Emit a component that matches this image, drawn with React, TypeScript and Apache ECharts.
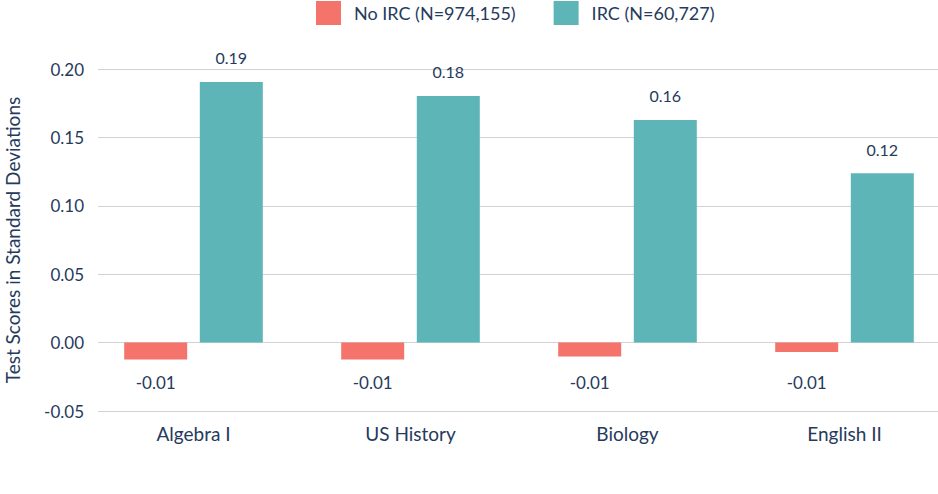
import React, { useEffect, useRef } from "react";
import * as echarts from "echarts";

const categories = ["Algebra I", "US History", "Biology", "English II"];
const noIrc = [-0.0124, -0.0124, -0.0102, -0.0068];
const irc = [0.1905, 0.1803, 0.1628, 0.1238];
const seriesNames = ["No IRC (N=974,155)", "IRC (N=60,727)"];
const yTicks = { min: -0.05, max: 0.2, interval: 0.05 };

const TEXT = "#263a5c";
const FONT = "Lato";

export default function App() {
  const ref = useRef<HTMLDivElement>(null);
  useEffect(() => {
    document.body.style.margin = "0";
    const chart = echarts.init(ref.current!, undefined, { renderer: "svg" });
    chart.setOption({
      animation: false,
      textStyle: { fontFamily: FONT, color: TEXT },
      legend: {
        top: 1,
        left: 316,
        padding: 0,
        itemWidth: 25,
        itemHeight: 24,
        itemGap: 38,
        icon: "rect",
        textStyle: { fontSize: 18, color: TEXT, fontFamily: FONT, padding: [0, 0, 0, 8] },
        data: seriesNames,
      },
      grid: { left: 85, right: -15, top: 69, bottom: 83, outerBoundsMode: "none", containLabel: false },
      xAxis: {
        type: "category",
        data: categories,
        axisLine: { show: false },
        axisTick: { show: false },
        axisLabel: { fontSize: 19, color: TEXT, fontFamily: FONT, margin: 13 },
      },
      yAxis: {
        type: "value",
        min: yTicks.min,
        max: yTicks.max,
        interval: yTicks.interval,
        name: "Test Scores in Standard Deviations",
        nameLocation: "middle",
        nameGap: 63,
        nameTextStyle: { fontSize: 19, color: TEXT, fontFamily: FONT },
        axisLine: { show: false },
        axisTick: { show: false },
        axisLabel: {
          fontSize: 17,
          color: TEXT,
          fontFamily: FONT,
          margin: 1,
          formatter: (v: number) => v.toFixed(2),
        },
        splitLine: { lineStyle: { color: "#d2d2d2", width: 1 } },
      },
      series: [
        {
          name: seriesNames[0],
          type: "bar",
          data: noIrc,
          barWidth: 63,
          barGap: "20%",
          itemStyle: { color: "#f4736b" },
          label: {
            show: true,
            position: ["50%", 40],
            align: "center",
            verticalAlign: "middle",
            fontSize: 17,
            color: TEXT,
            fontFamily: FONT,
            formatter: (p: any) => p.value.toFixed(2),
          },
        },
        {
          name: seriesNames[1],
          type: "bar",
          data: irc,
          barWidth: 63,
          barGap: "20%",
          itemStyle: { color: "#5db5b8" },
          label: {
            show: true,
            position: "top",
            distance: 16,
            fontSize: 16,
            color: TEXT,
            fontFamily: FONT,
            formatter: (p: any) => p.value.toFixed(2),
          },
        },
      ],
      graphic: [
        {
          type: "rect",
          shape: { x: 85, y: 60, width: 13, height: 360 },
          style: { fill: "#fff" },
          z: 100,
        },
      ],
    });
    return () => chart.dispose();
  }, []);
  return <div ref={ref} style={{ width: 938, height: 494 }} />;
}
